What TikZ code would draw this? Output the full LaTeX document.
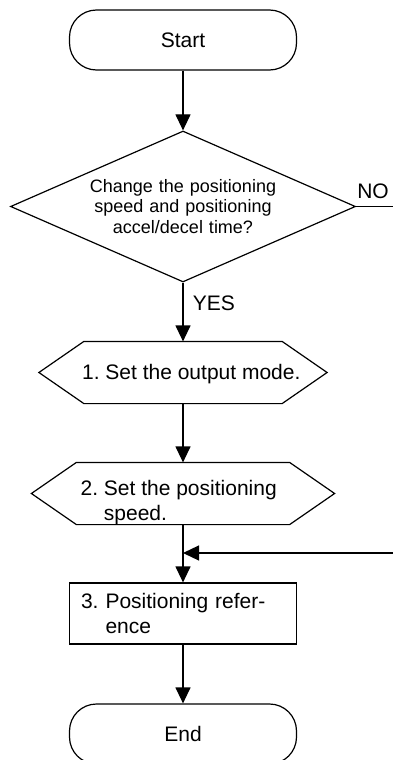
\documentclass[tikz,border=0pt]{standalone}
\usepackage{fontspec}
\setmainfont{Liberation Sans}
\usetikzlibrary{arrows.meta,shapes.geometric}
\frenchspacing
\newcommand\flowfont{\fontsize{21}{25}\selectfont}
\newcommand\askfont{\fontsize{18}{20.7}\selectfont}

\begin{document}
\begin{tikzpicture}[x=1pt,y=-1pt,line width=1.2pt,font=\flowfont,
    term/.style={draw,rounded corners=27pt,minimum width=227pt,minimum height=60pt},
    ask/.style={draw,diamond,aspect=2.28,minimum width=345pt,minimum height=151pt,inner sep=0pt,text width=192pt,align=center,font=\askfont},
    prep/.style={minimum height=61pt,inner sep=0pt},
    proc/.style={draw,minimum width=227pt,minimum height=61pt,inner xsep=11.5pt,text width=204pt,align=left},
    txt/.style={inner sep=0pt,align=left},
    a/.style={-{Triangle[length=16pt,width=15pt]}}]
  \useasboundingbox (0,0) rectangle (393,760);
  \clip (0,0) rectangle (393,760);
  \node[term] (start) at (183,40) {Start};
  \node[ask] (chg) at (183,206.5) {Change the positioning\\speed and positioning\\accel/decel time?};
  \node[prep,minimum width=197pt] (s1) at (183,372.5) {};
  \node[prep,minimum width=212pt] (s2) at (183,493.5) {};
  % hexagon outlines
  \foreach \n in {s1,s2}
    \draw (\n.north west) -- (\n.north east) -- ([xshift=45pt]\n.east) -- (\n.south east)
      -- (\n.south west) -- ([xshift=-45pt]\n.west) -- cycle;
  \node[txt,anchor=west] (t1) at (81.5,374.5) {1. Set the output mode.};
  \node[txt,anchor=west] (t2) at (80,503) {2. Set the positioning\\\phantom{2. }speed.};
  \node[proc] (ref) at (183,613.5) {3. Positioning refer-\\\phantom{3. }ence};
  \node[term] (end) at (183,734) {End};
  \coordinate (noout) at (393,206.5);
  \coordinate (back) at (393,553);
  \draw[a] (start) -- (chg);
  \draw[a] (chg) -- node[right=6pt,pos=.35]{YES} (s1);
  \draw[a] (s1) -- (s2);
  \draw[a] (s2) -- (ref);
  \draw[a] (back) -- (back -| ref.north);
  \draw[a] (ref) -- (end);
  \draw (chg.east) -- node[above=4pt,pos=.46]{NO} (noout);
\end{tikzpicture}
\end{document}
